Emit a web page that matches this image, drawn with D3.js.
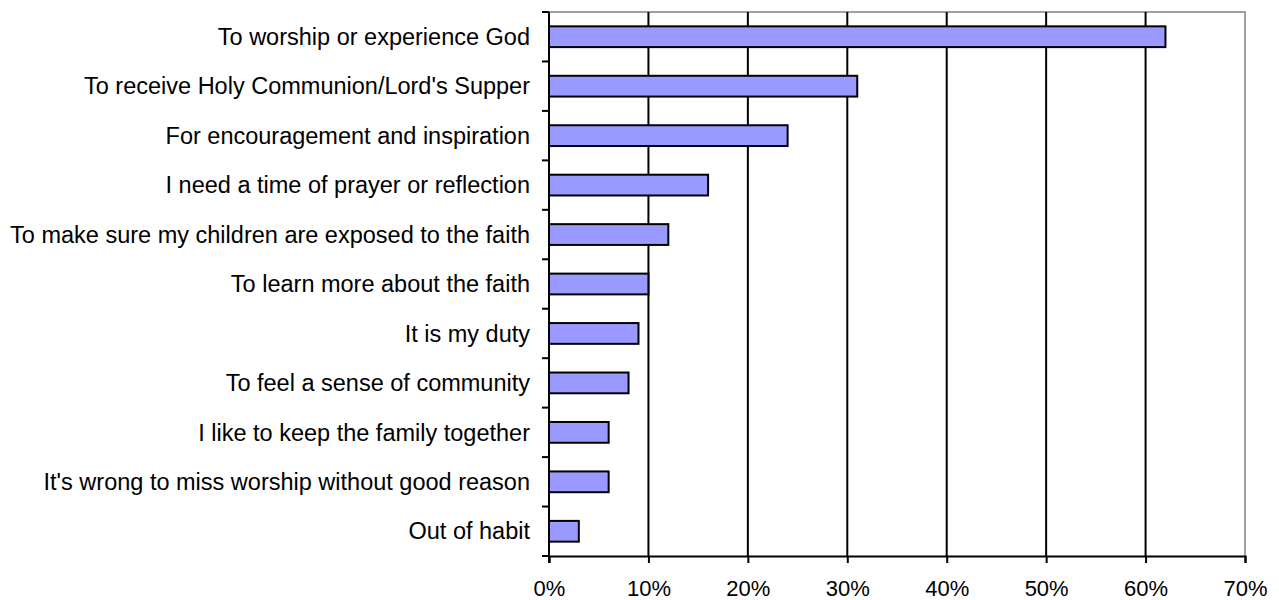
<!DOCTYPE html>
<html><head><meta charset="utf-8">
<script src="https://cdn.jsdelivr.net/npm/d3@7"></script>
<style>body{margin:0;background:#fff}svg{display:block}text{font-family:"Liberation Sans",Arial,sans-serif;fill:#000}</style>
</head><body><svg id="c" width="1279" height="600"></svg>
<script>
const categories = ["To worship or experience God","To receive Holy Communion/Lord's Supper","For encouragement and inspiration","I need a time of prayer or reflection","To make sure my children are exposed to the faith","To learn more about the faith","It is my duty","To feel a sense of community","I like to keep the family together","It's wrong to miss worship without good reason","Out of habit"];
const values = [62,31,24,16,12,10,9,8,6,6,3];
const tickValues = [0,10,20,30,40,50,60,70];

const svg = d3.select("#c");
const L=549, R=1245, T=12, B=556;
const x = d3.scaleLinear().domain([0,70]).range([L,R]);
const y = d3.scaleBand().domain(categories).range([T,B]).paddingInner(0.58).paddingOuter(0.29);
const yb = d3.scaleLinear().domain([0,categories.length]).range([T,B]);

svg.append("path").attr("d",`M${L},${T}H${R}V${B}`).attr("fill","none").attr("stroke","#a0a0a0").attr("stroke-width",2);
svg.append("g").selectAll("line").data(tickValues.slice(1,-1)).join("line")
  .attr("x1",d=>x(d)).attr("x2",d=>x(d)).attr("y1",T).attr("y2",B)
  .attr("stroke","#000").attr("stroke-width",2);
svg.append("g").selectAll("rect").data(values).join("rect")
  .attr("x",x(0)).attr("y",(d,i)=>y(categories[i]))
  .attr("width",d=>x(d)-x(0)).attr("height",y.bandwidth())
  .attr("fill","#9999ff").attr("stroke","#000").attr("stroke-width",2);
const xa = svg.append("g").attr("transform",`translate(0,${B})`)
  .call(d3.axisBottom(x).tickValues(tickValues).tickFormat(d=>d+"%").tickSize(7).tickPadding(17));
xa.attr("font-size",null).attr("font-family",null);
xa.select(".domain").attr("stroke","#000").attr("stroke-width",2);
xa.selectAll(".tick line").attr("stroke","#000").attr("stroke-width",2);
xa.selectAll("text").style("font-size","22px").style("font-family","Liberation Sans, Arial, sans-serif");
svg.append("line").attr("x1",L).attr("x2",L).attr("y1",T).attr("y2",B+7).attr("stroke","#000").attr("stroke-width",2);
svg.append("g").selectAll("line").data(d3.range(categories.length+1)).join("line")
  .attr("x1",L-7).attr("x2",L).attr("y1",d=>yb(d)).attr("y2",d=>yb(d))
  .attr("stroke","#000").attr("stroke-width",2);
svg.append("g").selectAll("text").data(categories).join("text")
  .attr("x",L-19).attr("y",d=>y(d)+y.bandwidth()/2).attr("dy","0.35em")
  .attr("text-anchor","end").style("font-size","23.5px").text(d=>d);
</script></body></html>
